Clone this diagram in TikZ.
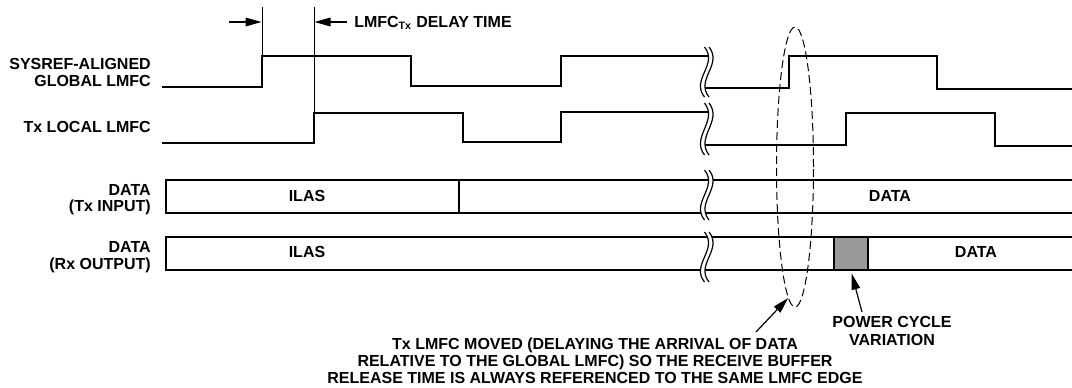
\documentclass[tikz,border=0pt]{standalone}
\usepackage{fontspec}
\setmainfont{Liberation Sans}
\usetikzlibrary{arrows.meta,shapes.geometric}
\tikzset{
  wave/.style={line width=2pt, line join=miter},
  boxline/.style={line width=1.5pt, line join=miter},
  thin/.style={line width=0.75pt},
  brk/.style={line width=0.9pt},
  arr/.style={line width=0.9pt, -{Triangle[length=12pt,width=6.5pt]}},
  lbl/.style={font=\fontsize{12}{12.4}\selectfont\bfseries, inner sep=0pt, align=right, anchor=east},
  txt/.style={font=\fontsize{12}{12.9}\selectfont\bfseries, inner sep=0pt, align=center},
  ellbox/.style={ellipse, draw, line width=0.75pt, dash pattern=on 6pt off 3pt, inner sep=0pt,
    minimum width=27.75pt, minimum height=210pt},
  graybox/.style={draw, line width=1.5pt, fill={rgb,255:red,153;green,153;blue,153}, inner sep=0pt,
    minimum width=25.5pt, minimum height=24.75pt}
}
\newcommand\brkmark[3]{%
  \fill[white] (#1,#2) .. controls (#1+14,{#2+0.35*(#3-#2)}) and (#1-14,{#2+0.65*(#3-#2)}) .. (#1,#3)
     -- (#1+4.5,#3) .. controls (#1+4.5-14,{#2+0.65*(#3-#2)}) and (#1+4.5+14,{#2+0.35*(#3-#2)}) .. (#1+4.5,#2) -- cycle;
  \draw[brk] (#1,#2) .. controls (#1+14,{#2+0.35*(#3-#2)}) and (#1-14,{#2+0.65*(#3-#2)}) .. (#1,#3);
  \draw[brk] (#1+4.5,#2) .. controls (#1+4.5+14,{#2+0.35*(#3-#2)}) and (#1+4.5-14,{#2+0.65*(#3-#2)}) .. (#1+4.5,#3);
}
\begin{document}
\begin{tikzpicture}[x=0.75pt,y=-0.75pt]
\useasboundingbox (0,0) rectangle (1072,387);

% labels
\node[lbl] (lg) at (151,72.5) {SYSREF-ALIGNED\\GLOBAL LMFC};
\node[lbl] (ll) at (151,127) {Tx LOCAL LMFC};
\node[lbl] (ld1) at (151,199.5) {DATA\\(Tx INPUT)};
\node[lbl] (ld2) at (151,257) {DATA\\(Rx OUTPUT)};

% global LMFC
\draw[wave] (162,87) -- (262,87) -- (262,56) -- (411,56) -- (411,86) -- (561,86) -- (561,56) -- (710,56);
\draw[wave] (703,88) -- (789,88) -- (789,56) -- (937,56) -- (937,89) -- (1072,89);
% Tx local LMFC
\draw[wave] (162,143) -- (314,143) -- (314,113) -- (463,113) -- (463,142) -- (561,142) -- (561,112) -- (710,112);
\draw[wave] (703,145) -- (846,145) -- (846,113) -- (995,113) -- (995,146) -- (1072,146);

% data boxes
\draw[boxline] (1072,180) -- (166,180) -- (166,213) -- (1072,213);
\draw[boxline] (459,180) -- (459,213);
\draw[boxline] (1072,237) -- (166,237) -- (166,270) -- (1072,270);
\node[graybox] (gray) at (851,253.5) {};

% break marks
\brkmark{704.5}{47}{97}
\brkmark{704.5}{103}{155}
\brkmark{704.5}{170}{220}
\brkmark{704.5}{232}{282}

% texts in boxes
\node[txt] (ilas1) at (307,196) {ILAS};
\node[txt] (ilas2) at (307,252) {ILAS};
\node[txt] (data1) at (890,196) {DATA};
\node[txt] (data2) at (976,252) {DATA};

% delay time markers
\coordinate (v1t) at (262,7);
\coordinate (v1b) at (262,56);
\coordinate (v2t) at (314,7);
\coordinate (v2b) at (314,113);
\draw[thin] (v1t) -- (v1b);
\draw[thin] (v2t) -- (v2b);
\coordinate (a1s) at (229,22);
\coordinate (a1e) at (261.5,22);
\coordinate (a2s) at (347,22);
\coordinate (a2e) at (314.5,22);
\draw[arr] (a1s) -- (a1e);
\draw[arr] (a2s) -- (a2e);
\node[font=\fontsize{12}{12.4}\selectfont\bfseries, inner sep=0pt, anchor=base west] (delay) at (354,27.5) {LMFC\textsubscript{Tx} DELAY TIME};

% ellipse
\node[ellbox] (ell) at (795,167) {};

% bottom notes
\node[txt] (note) at (595,360.5) {Tx LMFC MOVED (DELAYING THE ARRIVAL OF DATA\\RELATIVE TO THE GLOBAL LMFC) SO THE RECEIVE BUFFER\\RELEASE TIME IS ALWAYS REFERENCED TO THE SAME LMFC EDGE};
\coordinate (nt) at (756,332);
\draw[arr] (nt) -- (ell.267);

\node[txt] (pc) at (892,331) {POWER CYCLE\\VARIATION};
\coordinate (pt) at (862,312);
\draw[arr, shorten >=2pt] (pt) -- (gray.south);
\end{tikzpicture}
\end{document}
